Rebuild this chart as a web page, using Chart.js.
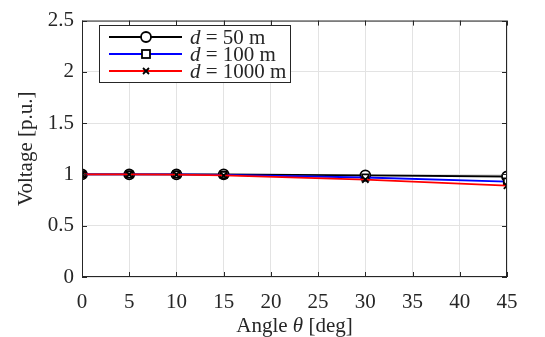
<!DOCTYPE html>
<html><head><meta charset="utf-8">
<script src="https://cdn.jsdelivr.net/npm/chart.js@4/dist/chart.umd.min.js"></script>
<style>html,body{margin:0;padding:0;background:#fff}#wrap{width:545px;height:337px}</style>
</head><body><div id="wrap"><canvas id="c" width="545" height="337"></canvas></div>
<script>
const angles = [0, 5, 10, 15, 30, 45];
const v50 = [1.0, 1.0, 1.0, 1.0, 0.99, 0.98];
const v100 = [1.0, 1.0, 1.0, 0.995, 0.97, 0.93];
const v1000 = [1.0, 1.0, 0.998, 0.99, 0.95, 0.89];
const seriesNames = ['50 m', '100 m', '1000 m'];
const xTicks = [0, 5, 10, 15, 20, 25, 30, 35, 40, 45];
const yTicks = [0, 0.5, 1, 1.5, 2, 2.5];
const yTickLabels = ['0', '0.5', '1', '1.5', '2', '2.5'];

const FONT = "'Liberation Serif', serif";
const TXT = '#262626';
Chart.defaults.font.family = FONT;
const toPts = (ys) => angles.map((a, i) => ({x: a, y: ys[i]}));

const styles = [
  {color: '#000000', point: 'circle', r: 5},
  {color: '#0000ff', point: 'rect', r: 4.5},
  {color: '#ff0000', point: 'crossRot', r: 4.5}
];
const vals = [v50, v100, v1000];

const datasets = vals.map((v, i) => ({
  label: 'd = ' + seriesNames[i],
  data: toPts(v),
  borderColor: styles[i].color,
  borderWidth: 1.8,
  pointStyle: styles[i].point,
  pointRadius: styles[i].r,
  pointBorderColor: '#000',
  pointBackgroundColor: '#fff',
  pointBorderWidth: 1.8,
  order: 3 - i,
  tension: 0
}));

const deco = {
  id: 'deco',
  afterDraw(chart) {
    const ctx = chart.ctx;
    const a = chart.chartArea;
    const xs = chart.scales.x, ys = chart.scales.y;
    ctx.save();
    ctx.strokeStyle = TXT;
    ctx.lineWidth = 1;
    ctx.strokeRect(a.left + 0.5, a.top + 0.5, a.right - a.left - 1, a.bottom - a.top - 1);
    ctx.beginPath();
    xTicks.forEach(t => {
      const px = Math.round(xs.getPixelForValue(t)) + 0.5;
      ctx.moveTo(px, a.bottom); ctx.lineTo(px, a.bottom - 5);
      ctx.moveTo(px, a.top); ctx.lineTo(px, a.top + 5);
    });
    yTicks.forEach(t => {
      const py = Math.round(ys.getPixelForValue(t)) + 0.5;
      ctx.moveTo(a.left, py); ctx.lineTo(a.left + 5, py);
      ctx.moveTo(a.right, py); ctx.lineTo(a.right - 5, py);
    });
    ctx.stroke();

    ctx.fillStyle = TXT;
    ctx.textBaseline = 'middle';
    const parts = [['Angle ', ''], ['θ', 'italic '], [' [deg]', '']];
    let total = 0;
    parts.forEach(p => { ctx.font = p[1] + '21px ' + FONT; total += ctx.measureText(p[0]).width; });
    let x0 = (a.left + a.right) / 2 - total / 2;
    ctx.textAlign = 'left';
    parts.forEach(p => { ctx.font = p[1] + '21px ' + FONT; ctx.fillText(p[0], x0, 326); x0 += ctx.measureText(p[0]).width; });
    ctx.save();
    ctx.translate(26, (a.top + a.bottom) / 2);
    ctx.rotate(-Math.PI / 2);
    ctx.textAlign = 'center';
    ctx.font = '21px ' + FONT;
    ctx.fillText('Voltage [p.u.]', 0, 0);
    ctx.restore();

    const lx = 99, ly = 25, lw = 191, lh = 57;
    ctx.fillStyle = '#fff';
    ctx.fillRect(lx, ly, lw, lh);
    ctx.strokeStyle = TXT;
    ctx.lineWidth = 1;
    ctx.strokeRect(lx + 0.5, ly + 0.5, lw, lh);
    const rows = [37, 54, 71];
    rows.forEach((ry, i) => {
      ctx.strokeStyle = styles[i].color;
      ctx.lineWidth = 1.8;
      ctx.beginPath(); ctx.moveTo(109, ry); ctx.lineTo(182, ry); ctx.stroke();
      ctx.fillStyle = '#fff';
      ctx.strokeStyle = '#000';
      ctx.lineWidth = 1.8;
      ctx.beginPath();
      if (styles[i].point === 'circle') { ctx.arc(146, ry, 5, 0, Math.PI * 2); ctx.fill(); ctx.stroke(); }
      else if (styles[i].point === 'rect') { ctx.fillRect(142, ry - 4, 8, 8); ctx.strokeRect(142, ry - 4, 8, 8); }
      else { ctx.moveTo(143, ry - 3); ctx.lineTo(149, ry + 3); ctx.moveTo(149, ry - 3); ctx.lineTo(143, ry + 3); ctx.stroke(); }
      ctx.fillStyle = TXT;
      ctx.textAlign = 'left';
      let tx = 190;
      ctx.font = 'italic 21px ' + FONT;
      ctx.fillText('d', tx, ry + 1);
      tx += ctx.measureText('d').width;
      ctx.font = '21px ' + FONT;
      ctx.fillText(' = ' + seriesNames[i], tx, ry + 1);
    });
    ctx.restore();
  }
};

new Chart(document.getElementById('c'), {
  type: 'line',
  data: {datasets},
  plugins: [deco],
  options: {
    responsive: false,
    animation: false,
    devicePixelRatio: 1,
    layout: {padding: {left: 0, right: 38, top: 20, bottom: 0}},
    plugins: {legend: {display: false}, tooltip: {enabled: false}},
    scales: {
      x: {
        type: 'linear', min: 0, max: 45,
        afterBuildTicks(s) { s.ticks = xTicks.map(v => ({value: v})); },
        afterFit(s) { s.height = 60; },
        grid: {color: '#e3e3e3', drawTicks: false, lineWidth: 1},
        border: {display: false},
        ticks: {color: TXT, font: {family: FONT, size: 21}, padding: 13, maxRotation: 0, autoSkip: false,
                callback: (v) => String(v)}
      },
      y: {
        type: 'linear', min: 0, max: 2.5,
        afterBuildTicks(s) { s.ticks = yTicks.map(v => ({value: v})); },
        afterFit(s) { s.width = 82; },
        grid: {color: '#e3e3e3', drawTicks: false, lineWidth: 1},
        border: {display: false},
        ticks: {color: TXT, font: {family: FONT, size: 21}, padding: 8, autoSkip: false,
                callback: (v) => { const i = yTicks.indexOf(v); return i >= 0 ? yTickLabels[i] : ''; }}
      }
    }
  }
});
</script></body></html>
